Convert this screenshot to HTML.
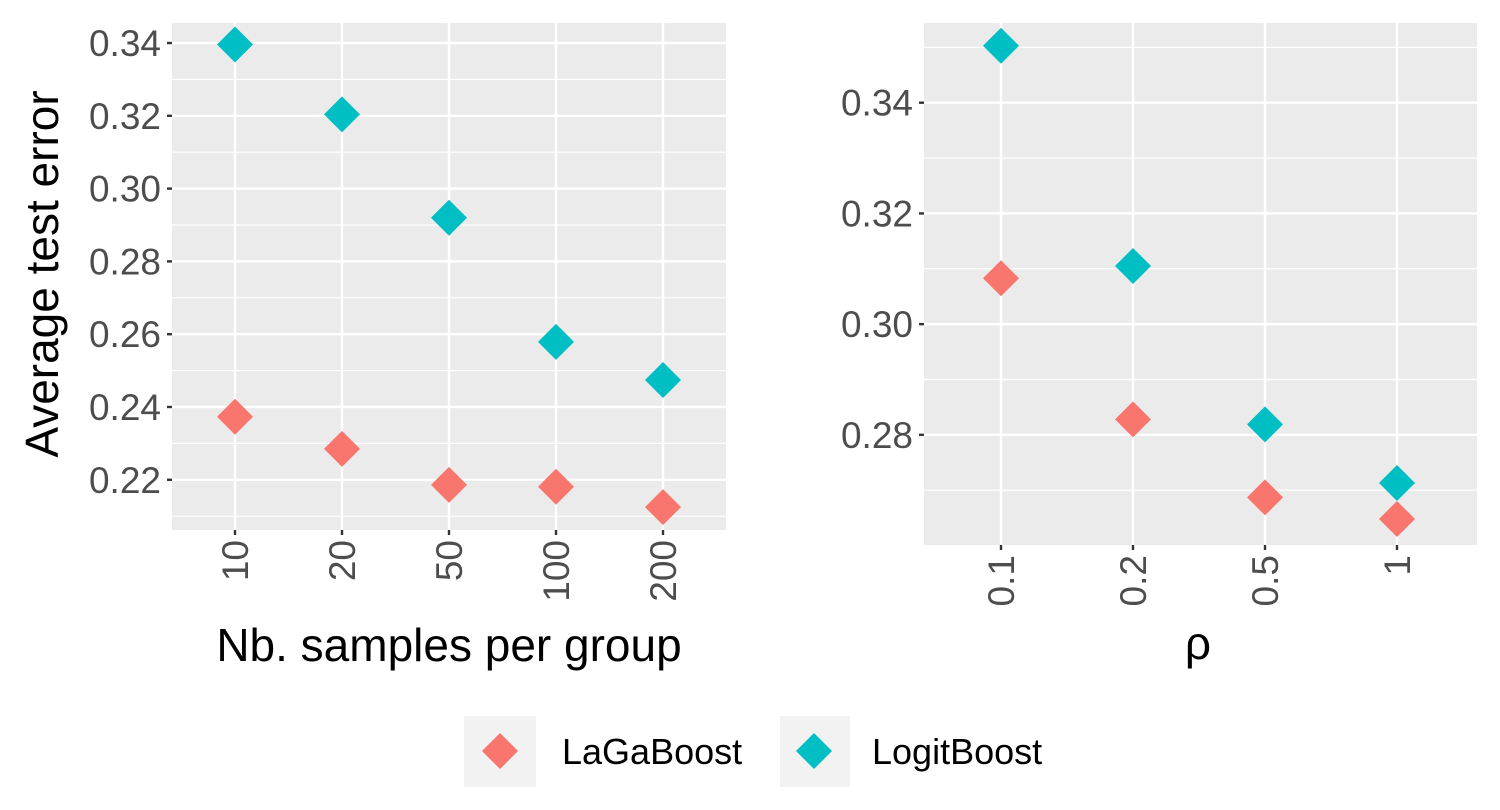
<!DOCTYPE html>
<html><head><meta charset="utf-8"><style>
html,body{margin:0;padding:0;background:#fff;}
svg{display:block;font-family:"Liberation Sans",Arial,sans-serif;}
</style></head><body>
<svg id="chart" width="1500" height="810" viewBox="0 0 1500 810"></svg>
<script>
const leftCategories = ["10","20","50","100","200"];
const leftLaGa = [0.2373,0.2285,0.2186,0.2181,0.2125];
const leftLogit = [0.3396,0.3204,0.2920,0.2579,0.2474];
const leftTicks = [0.22,0.24,0.26,0.28,0.30,0.32,0.34];
const leftTickLabels = ["0.22","0.24","0.26","0.28","0.30","0.32","0.34"];
const rightCategories = ["0.1","0.2","0.5","1"];
const rightLaGa = [0.3083,0.2828,0.2687,0.2648];
const rightLogit = [0.3503,0.3105,0.2819,0.2713];
const rightTicks = [0.28,0.30,0.32,0.34];
const rightTickLabels = ["0.28","0.30","0.32","0.34"];

const NS="http://www.w3.org/2000/svg";
const svg=document.getElementById('chart');
const RED="#F8766D", TEAL="#00BFC4";
function mk(tag,attrs,parent){const e=document.createElementNS(NS,tag);for(const k in attrs)e.setAttribute(k,attrs[k]);(parent||svg).appendChild(e);return e;}
function diamond(cx,cy,r,fill,parent){return mk('polygon',{points:`${cx},${cy-r} ${cx+r},${cy} ${cx},${cy+r} ${cx-r},${cy}`,fill:fill},parent);}

function panel(name,p,cats,s1,s2,ticks,labels){
  const g=mk('g',{});
  
  
  const y=v=>p.y1-(v-p.vmin)/(p.vmax-p.vmin)*(p.y1-p.y0);
  const x=i=>p.xFirst+i*p.xStep;
  const bg=mk('rect',{x:p.x0,y:p.y0,width:p.x1-p.x0,height:p.y1-p.y0,fill:'#EBEBEB'},g);
  
  
  for(let i=0;i<=ticks.length;i++){
    const step=ticks[1]-ticks[0];
    const v=ticks[0]-step/2+i*step;
    if(v>p.vmin&&v<p.vmax){mk('line',{x1:p.x0,x2:p.x1,y1:y(v),y2:y(v),stroke:'#fff','stroke-width':1.2},g);}
  }
  ticks.forEach((v,i)=>{
    mk('line',{x1:p.x0,x2:p.x1,y1:y(v),y2:y(v),stroke:'#fff','stroke-width':2.4},g);
    mk('line',{x1:p.x0-5,x2:p.x0,y1:y(v),y2:y(v),stroke:'#333','stroke-width':2.4},g);
    const t=mk('text',{x:p.x0-11,y:y(v)+13,'text-anchor':'end','font-size':37,fill:'#4D4D4D'},g);
    t.textContent=labels[i];
    
    
  });
  cats.forEach((c,i)=>{
    mk('line',{x1:x(i),x2:x(i),y1:p.y0,y2:p.y1,stroke:'#fff','stroke-width':2.4},g);
    mk('line',{x1:x(i),x2:x(i),y1:p.y1,y2:p.y1+5,stroke:'#333','stroke-width':2.4},g);
    const t=mk('text',{x:0,y:0,'text-anchor':'end','font-size':37,fill:'#4D4D4D',transform:`translate(${x(i)+13},${p.y1+10}) rotate(-90)`},g);
    t.textContent=c;
    
    
  });
  s1.forEach((v,i)=>{const d=diamond(x(i),y(v),18,RED,g);
    
    });
  s2.forEach((v,i)=>{const d=diamond(x(i),y(v),18,TEAL,g);
    
    });
}
panel('left-panel',{x0:172,x1:726,y0:23,y1:530,vmin:0.2062,vmax:0.3455,xFirst:235,xStep:107},leftCategories,leftLaGa,leftLogit,leftTicks,leftTickLabels);
panel('right-panel',{x0:924,x1:1477,y0:23,y1:545,vmin:0.2601,vmax:0.3544,xFirst:1001,xStep:132},rightCategories,rightLaGa,rightLogit,rightTicks,rightTickLabels);

let t=mk('text',{x:449,y:661,'text-anchor':'middle','font-size':46,fill:'#000'});t.textContent='Nb. samples per group';


t=mk('text',{x:1198,y:659,'text-anchor':'middle','font-size':46,fill:'#000'});t.textContent='ρ';


t=mk('text',{x:0,y:0,'text-anchor':'middle','font-size':46,fill:'#000',transform:'translate(58,274) rotate(-90)'});t.textContent='Average test error';



const lg=mk('g',{});


const e1=mk('g',{},lg);


mk('rect',{x:464,y:716,width:72,height:71,fill:'#F2F2F2'},e1);
diamond(500,751,18,RED,e1);
t=mk('text',{x:562,y:764,'font-size':36,fill:'#000'},e1);t.textContent='LaGaBoost';
const e2=mk('g',{},lg);


mk('rect',{x:780,y:716,width:70,height:71,fill:'#F2F2F2'},e2);
diamond(814,751,18,TEAL,e2);
t=mk('text',{x:872,y:764,'font-size':36,fill:'#000'},e2);t.textContent='LogitBoost';
</script>
</body></html>
